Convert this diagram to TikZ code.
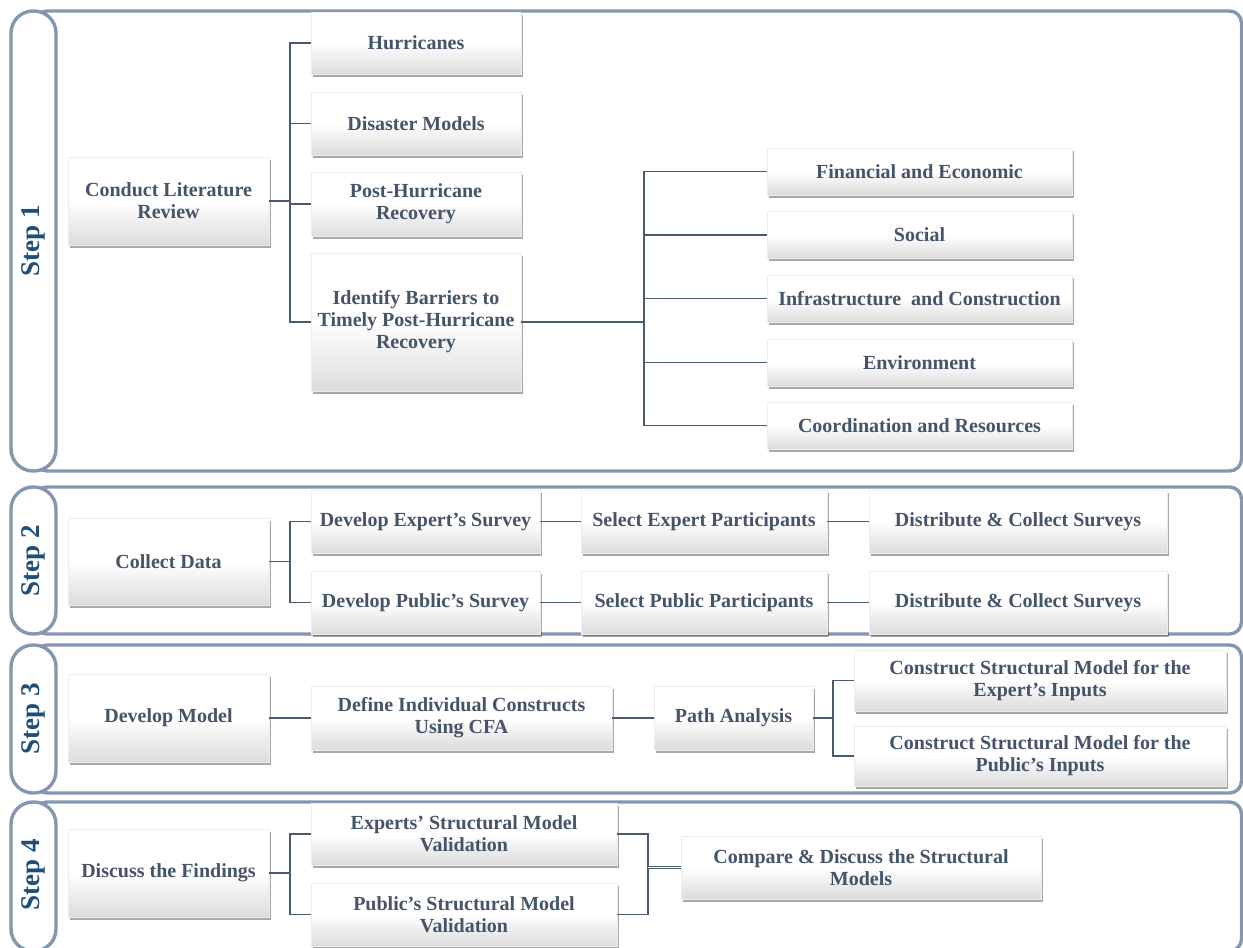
\documentclass[tikz,border=0pt]{standalone}
\usepackage{fontspec}
\setmainfont{Liberation Serif}
\usetikzlibrary{shadows}

\definecolor{txt}{HTML}{44546A}
\definecolor{steplbl}{HTML}{1F4E79}
\definecolor{framec}{HTML}{8497B0}
\definecolor{boxedge}{HTML}{EDEDED}
\definecolor{linkc}{HTML}{4A5A70}

\tikzset{
  box/.style={draw=boxedge, line width=0.5pt,
    top color=white, bottom color=black!14, middle color=white,
    drop shadow={shadow xshift=1.8pt, shadow yshift=-2.6pt, fill=black, opacity=0.34},
    font=\fontsize{20}{22}\selectfont\bfseries, text=txt,
    align=center, inner sep=0pt},
  frame/.style={draw=framec, line width=3.4pt},
  tab/.style={draw=framec, line width=3.4pt, fill=white, rounded corners=22pt},
  steplabel/.style={font=\fontsize{27}{30}\selectfont\bfseries, text=steplbl, rotate=90},
  link/.style={draw=linkc, line width=1.4pt},
}

\begin{document}
\begin{tikzpicture}[x=1pt, y=-1pt]
\useasboundingbox (0,0) rectangle (1243,948);

% ---------- step frames with their side tabs ----------
\draw[frame, rounded corners=12pt] (35,11) rectangle (1241.5,471);
\draw[tab] (11,11) rectangle (56,471);
\node[steplabel] (s1) at (33.5,241) {Step 1};

\draw[frame, rounded corners=12pt] (35,487) rectangle (1241.5,634);
\draw[tab] (11,487) rectangle (56,634);
\node[steplabel] (s2) at (33.5,560.5) {Step 2};

\draw[frame, rounded corners=12pt] (35,645) rectangle (1241.5,793);
\draw[tab] (11,645) rectangle (56,793);
\node[steplabel] (s3) at (33.5,719) {Step 3};

\draw[frame, rounded corners=12pt] (35,802) rectangle (1241.5,951);
\draw[tab] (11,802) rectangle (56,951);
\node[steplabel] (s4) at (33.5,875) {Step 4};

% ---------- step 1 ----------
\node[box, minimum width=201pt, minimum height=88pt] (lit) at (168.5,201) {Conduct Literature\\Review};
\node[box, minimum width=210pt, minimum height=62pt] (hur) at (416,43) {Hurricanes};
\node[box, minimum width=210pt, minimum height=63pt] (dm)  at (416,123.5) {Disaster Models};
\node[box, minimum width=210pt, minimum height=64pt] (phr) at (416,204) {Post-Hurricane\\Recovery};
\node[box, minimum width=210pt, minimum height=138pt] (idb) at (416,322) {Identify Barriers to\\Timely Post-Hurricane\\Recovery};

\node[box, minimum width=305pt, minimum height=47pt] (fin) at (919.5,171.5) {Financial and Economic};
\node[box, minimum width=305pt, minimum height=47pt] (soc) at (919.5,235) {Social};
\node[box, minimum width=305pt, minimum height=47pt] (inf) at (919.5,298.5) {Infrastructure\ \ and Construction};
\node[box, minimum width=305pt, minimum height=47pt] (env) at (919.5,362.5) {Environment};
\node[box, minimum width=305pt, minimum height=47pt] (crd) at (919.5,425.5) {Coordination and Resources};

\coordinate (bus1) at (290,0);
\draw[link] (lit.east) -- (lit.east -| bus1);
\draw[link] (hur.west) -- (hur.west -| bus1) -- (idb.west -| bus1) -- (idb.west);
\draw[link] (dm.west) -- (dm.west -| bus1);
\draw[link] (phr.west) -- (phr.west -| bus1);

\coordinate (bus2) at (644,0);
\draw[link] (idb.east) -- (idb.east -| bus2);
\draw[link] (fin.west) -- (fin.west -| bus2) -- (crd.west -| bus2) -- (crd.west);
\draw[link] (soc.west) -- (soc.west -| bus2);
\draw[link] (inf.west) -- (inf.west -| bus2);
\draw[link] (env.west) -- (env.west -| bus2);

% ---------- step 2 ----------
\node[box, minimum width=201pt, minimum height=87pt] (col) at (168.5,561.5) {Collect Data};
\node[box, minimum width=229pt, minimum height=63pt] (des) at (425.5,521.5) {Develop Expert’s Survey};
\node[box, minimum width=229pt, minimum height=63pt] (dps) at (425.5,602.5) {Develop Public’s Survey};
\node[box, minimum width=246pt, minimum height=63pt] (sep) at (704,521.5) {Select Expert Participants};
\node[box, minimum width=246pt, minimum height=63pt] (spp) at (704,602.5) {Select Public Participants};
\node[box, minimum width=298pt, minimum height=63pt] (dce) at (1018,521.5) {Distribute \& Collect Surveys};
\node[box, minimum width=298pt, minimum height=63pt] (dcp) at (1018,602.5) {Distribute \& Collect Surveys};

\coordinate (bus3) at (290,0);
\draw[link] (col.east) -- (col.east -| bus3);
\draw[link] (des.west) -- (des.west -| bus3) -- (dps.west -| bus3) -- (dps.west);
\draw[link] (des.east) -- (sep.west);
\draw[link] (dps.east) -- (spp.west);
\draw[link] (sep.east) -- (dce.west);
\draw[link] (spp.east) -- (dcp.west);

% ---------- step 3 ----------
\node[box, minimum width=201pt, minimum height=88pt] (dvm) at (168.5,718) {Develop Model};
\node[box, minimum width=301pt, minimum height=64pt] (dic) at (461.5,718) {Define Individual Constructs\\Using CFA};
\node[box, minimum width=159pt, minimum height=64pt] (pa)  at (733.5,718) {Path Analysis};
\node[box, minimum width=372pt, minimum height=61pt] (cse) at (1040,680.5) {Construct Structural Model for the\\Expert’s Inputs};
\node[box, minimum width=372pt, minimum height=60pt] (csp) at (1040,756) {Construct Structural Model for the\\Public’s Inputs};

\draw[link] (dvm.east) -- (dic.west);
\draw[link] (dic.east) -- (pa.west);
\coordinate (bus4) at (833,0);
\draw[link] (pa.east) -- (pa.east -| bus4);
\draw[link] (cse.west) -- (cse.west -| bus4) -- (csp.west -| bus4) -- (csp.west);

% ---------- step 4 ----------
\node[box, minimum width=201pt, minimum height=88pt] (dtf) at (168.5,873) {Discuss the Findings};
\node[box, minimum width=306pt, minimum height=62pt] (esv) at (464,834) {Experts’ Structural Model\\Validation};
\node[box, minimum width=306pt, minimum height=63pt] (psv) at (464,914.5) {Public’s Structural Model\\Validation};
\node[box, minimum width=360pt, minimum height=63pt] (cmp) at (861,867.5) {Compare \& Discuss the Structural\\Models};

\coordinate (bus5) at (290,0);
\draw[link] (dtf.east) -- (dtf.east -| bus5);
\draw[link] (esv.west) -- (esv.west -| bus5) -- (psv.west -| bus5) -- (psv.west);

\coordinate (bus6) at (648,0);
\draw[link] (esv.east) -- (esv.east -| bus6) -- (psv.east -| bus6) -- (psv.east);
\draw[link, line width=1pt, double=white, double distance=1.4pt] (cmp.west -| bus6) -- (cmp.west);
\end{tikzpicture}
\end{document}
